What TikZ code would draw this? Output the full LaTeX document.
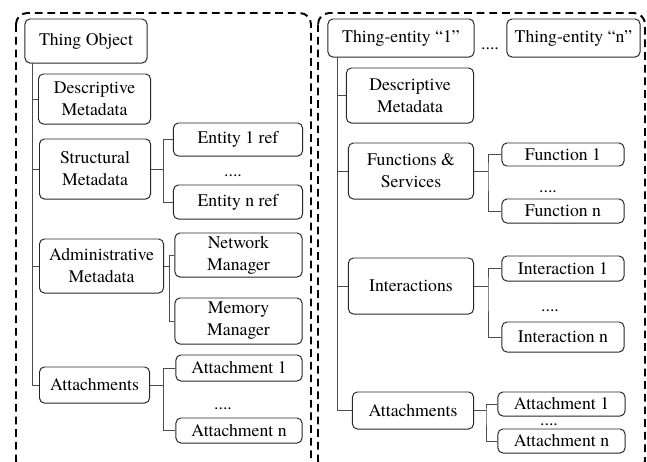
\documentclass[tikz,border=0pt]{standalone}
\usepackage{fontspec}
\IfFontExistsTF{texgyretermes-regular.otf}
  {\setmainfont{texgyretermes-regular.otf}}
  {\setmainfont{Liberation Serif}}
\usepackage{tikz}
\usetikzlibrary{positioning}

\newcommand{\boxfont}{\fontsize{12.6}{15.6}\selectfont}

\tikzset{
  box/.style={draw=black!85, line width=0.7pt, rounded corners=3.5pt, align=center, font=\boxfont, inner sep=0pt},
  link/.style={draw=black!70, line width=0.7pt},
  frame/.style={draw=black, line width=1.4pt, rounded corners=8pt, dash pattern=on 5.5pt off 3.5pt},
  dots/.style={font=\boxfont, inner sep=0pt}
}

\begin{document}
\begin{tikzpicture}[x=0.025cm, y=-0.025cm]
    \useasboundingbox (0,0) rectangle (647,462);
    \clip (0,0) rectangle (647,462);

    % Dashed frames
    \draw[frame] (16,13) rectangle (311,472);
    \draw[frame] (318,13) rectangle (645,472);

    % Thing Object side
    \node[box, minimum width=3.05cm, minimum height=1.1cm] (tobj) at (86,41) {Thing Object};
    \node[box, anchor=west, minimum width=2.8cm, minimum height=1.25cm] (ldesc) at (38,99) {Descriptive\\Metadata};
    \node[box, anchor=west, minimum width=2.775cm, minimum height=1.5cm] (lstruct) at (39,169) {Structural\\Metadata};
    \node[box, anchor=west, minimum width=3.1cm, minimum height=1.35cm] (ladmin) at (39,266) {Administrative\\Metadata};
    \node[box, anchor=west, minimum width=2.75cm, minimum height=0.9cm] (latt) at (39,385) {Attachments};

    \node[box, minimum width=3.225cm, minimum height=0.825cm] (ent1) at (238,139.5) {Entity 1 ref};
    \node[box, minimum width=3.225cm, minimum height=0.85cm] (entn) at (238,202) {Entity n ref};
    \node[dots] (entdots) at (233,176) {....};
    \node[box, minimum width=3.175cm, minimum height=1.1cm] (netm) at (238.5,255) {Network\\Manager};
    \node[box, minimum width=3.175cm, minimum height=1.15cm] (memm) at (238.5,321) {Memory\\Manager};
    \node[box, minimum width=3.15cm, minimum height=0.65cm] (latt1) at (239,368) {Attachment 1};
    \node[box, minimum width=3.15cm, minimum height=0.625cm] (lattn) at (239,430.5) {Attachment n};
    \node[dots] (lattdots) at (223,409) {....};

    % Thing Object tree
    \coordinate (ltop) at (32,63);
    \foreach \n in {ldesc,lstruct,ladmin}
      \draw[link] (ltop |- \n.west) -- (\n.west);
    \draw[link] (ltop) |- (latt.west);

    \draw[link] (lstruct.east) -- ++(12,0) coordinate (sbar);
    \draw[link] (ent1.west) -| (sbar) |- (entn.west);
    \draw[link] (ladmin.east) -- ++(5,0) coordinate (abar);
    \draw[link] (netm.west) -| (abar) |- (memm.west);
    \draw[link] (latt.east) -- ++(13,0) coordinate (tbar);
    \draw[link] (latt1.west) -| (tbar) |- (lattn.west);

    % Thing-entity side
    \node[box, minimum width=3.65cm, minimum height=0.95cm] (te1) at (401,38) {Thing-entity “1”};
    \node[box, minimum width=3.325cm, minimum height=0.95cm] (ten) at (573.5,38) {Thing-entity “n”};
    \node[dots] (tedots) at (490,49) {....};

    \node[box, anchor=east, minimum width=3.175cm, minimum height=1.375cm] (rdesc) at (474,95.5) {Descriptive\\Metadata};
    \node[box, anchor=east, minimum width=3.125cm, minimum height=1.4cm] (rfunc) at (474,171) {Functions \&\\Services};
    \node[box, anchor=east, minimum width=3.125cm, minimum height=1.4cm] (rinter) at (474,286) {Interactions};
    \node[box, anchor=east, minimum width=3.025cm, minimum height=0.925cm] (ratt) at (474,410.5) {Attachments};

    \node[box, minimum width=3.05cm, minimum height=0.575cm] (fun1) at (563,154.5) {Function 1};
    \node[box, minimum width=3.05cm, minimum height=0.6cm] (funn) at (563,211) {Function n};
    \node[dots] (fundots) at (548,192) {....};
    \node[box, minimum width=3.05cm, minimum height=0.625cm] (int1) at (563,268.5) {Interaction 1};
    \node[box, minimum width=3.05cm, minimum height=0.75cm] (intn) at (563,337) {Interaction n};
    \node[dots] (intdots) at (550,311) {....};
    \node[box, minimum width=3.175cm, minimum height=0.6cm] (ratt1) at (561.5,404) {Attachment 1};
    \node[box, minimum width=3.175cm, minimum height=0.6cm] (rattn) at (561.5,441) {Attachment n};
    \node[dots] (rattdots) at (549,425) {....};

    % Thing-entity tree
    \coordinate (rtop) at (337,57);
    \foreach \n in {rdesc,rfunc,rinter}
      \draw[link] (rtop |- \n.west) -- (\n.west);
    \draw[link] (rtop) |- (ratt.west);

    \draw[link] (rfunc.east) -- ++(14,0) coordinate (fbar);
    \draw[link] (fun1.west) -| (fbar) |- (funn.west);
    \draw[link] (rinter.east) -- ++(14,0) coordinate (ibar);
    \draw[link] (int1.west) -| (ibar) |- (intn.west);
    \draw[link] (ratt.east) -- ++(12,0) coordinate (rbar);
    \draw[link] (ratt1.west) -| (rbar) |- (rattn.west);
  \end{tikzpicture}
\end{document}
